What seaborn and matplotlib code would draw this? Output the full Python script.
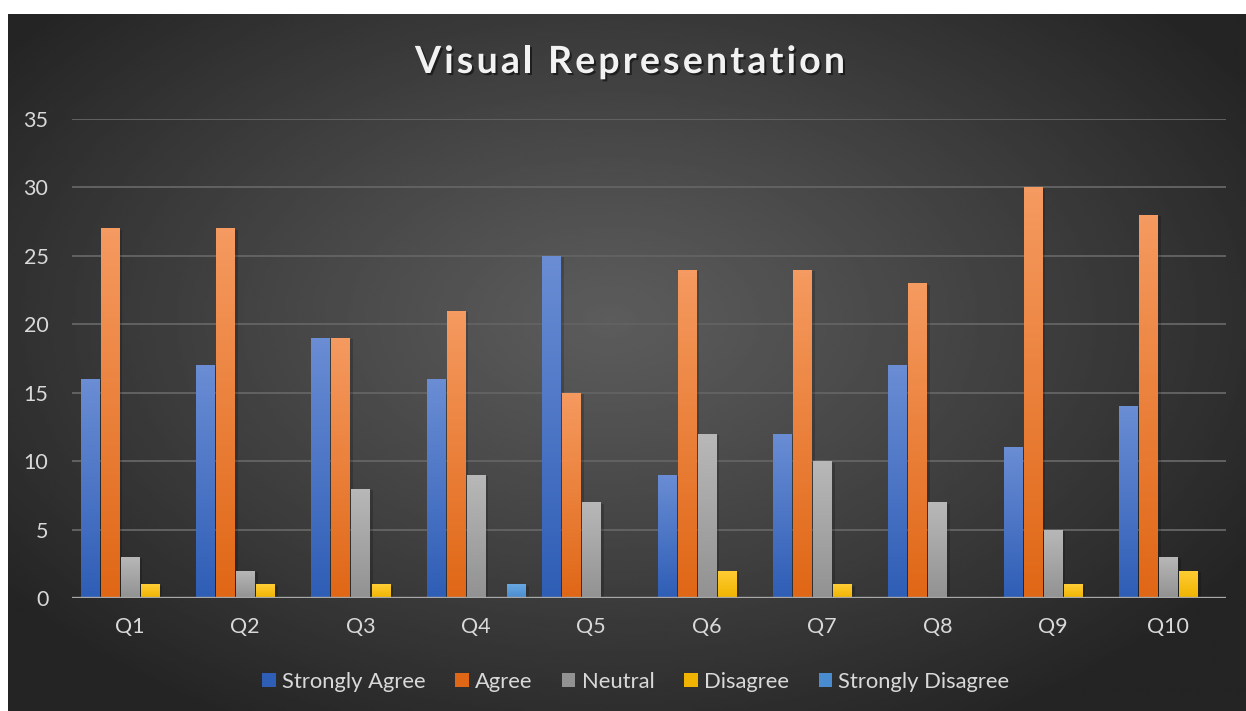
import matplotlib
matplotlib.use("Agg")
import matplotlib.pyplot as plt
import matplotlib.patheffects as pe
from matplotlib.colors import LinearSegmentedColormap
from matplotlib.patches import Rectangle
import seaborn as sns
import pandas as pd
import numpy as np

# ---- data ----
questions = ["Q1", "Q2", "Q3", "Q4", "Q5", "Q6", "Q7", "Q8", "Q9", "Q10"]
levels = ["Strongly Agree", "Agree", "Neutral", "Disagree", "Strongly Disagree"]
strongly_agree = [16, 17, 19, 16, 25, 9, 12, 17, 11, 14]
agree = [27, 27, 19, 21, 15, 24, 24, 23, 30, 28]
neutral = [3, 2, 8, 9, 7, 12, 10, 7, 5, 3]
disagree = [1, 1, 1, 0, 0, 2, 1, 0, 1, 2]
strongly_disagree = [0, 0, 0, 1, 0, 0, 0, 0, 0, 0]
y_ticks = [0, 5, 10, 15, 20, 25, 30, 35]
title = "Visual Representation"

# (top colour, bottom colour) per level
gradients = {
    "Strongly Agree": ("#6a8dd4", "#2f5eb6"),
    "Agree": ("#f59a60", "#e06716"),
    "Neutral": ("#b8b8b8", "#929292"),
    "Disagree": ("#ffcd35", "#f0b400"),
    "Strongly Disagree": ("#68a8e2", "#4a8cd0"),
}

series = [strongly_agree, agree, neutral, disagree, strongly_disagree]
df = pd.DataFrame({
    "Question": np.tile(questions, len(levels)),
    "Level": np.repeat(levels, len(questions)),
    "Count": np.concatenate(series),
})

sns.set_theme(style="dark")
plt.rcParams["font.family"] = ["Lato", "DejaVu Sans"]

W, H = 1246, 711
fig = plt.figure(figsize=(W / 100, H / 100), dpi=100, facecolor="white")

# radial dark background of the chart area
bg = fig.add_axes([0, 0, 1, 1], zorder=0)
bg.set_xlim(0, W)
bg.set_ylim(H, 0)
bg.axis("off")
xx, yy = np.meshgrid(np.linspace(8, W, 400), np.linspace(14, H, 240))
r = np.sqrt(((xx - 610) / 760) ** 2 + ((yy - 320) / 470) ** 2)
shade = 92 - 56 * np.clip(r, 0, 1) ** 1.1
bg.imshow(shade, cmap="gray", vmin=0, vmax=255, extent=(8, W, H, 14),
          aspect="auto", interpolation="bilinear")

ax = fig.add_axes([72 / W, (H - 598) / H, (1226 - 72) / W, (598 - 119) / H], zorder=1)
ax.set_facecolor("none")

palette = {k: v[1] for k, v in gradients.items()}
sns.barplot(data=df, x="Question", y="Count", hue="Level", order=questions,
            hue_order=levels, palette=palette, width=0.87, gap=0.1,
            linewidth=0, legend=False, ax=ax, zorder=3)

# gradient fill and soft shadow on every bar
n_q = len(questions)
for i, patch in enumerate(ax.patches):
    level = levels[i // n_q]
    h = patch.get_height()
    patch.set_edgecolor("none")
    if h <= 0:
        continue
    x0, w = patch.get_x(), patch.get_width()
    patch.set_path_effects([pe.SimplePatchShadow(offset=(2.5, -1), shadow_rgbFace="black", alpha=0.18),
                            pe.Normal()])
    top, bottom = gradients[level]
    cmap = LinearSegmentedColormap.from_list(level, [bottom, top])
    grad = np.linspace(0, 1, 64).reshape(-1, 1)
    im = ax.imshow(grad, cmap=cmap, extent=(x0, x0 + w, 0, h), origin="lower",
                   aspect="auto", zorder=4, interpolation="bilinear")
    im.set_clip_path(patch)

ax.set_xlim(-0.5, n_q - 0.5)
ax.set_ylim(0, 35)
ax.set_yticks(y_ticks)
ax.set_xlabel("")
ax.set_ylabel("")
for s in ax.spines.values():
    s.set_visible(False)
ax.grid(axis="y", color="#626262", linewidth=1.4, zorder=1)
ax.grid(axis="x", visible=False)
ax.axhline(0, color="#a8a8a8", linewidth=2.4, zorder=5)
ax.tick_params(axis="both", length=0, colors="#d9d9d9", labelsize=15.5)
ax.tick_params(axis="x", pad=14)
ax.tick_params(axis="y", pad=17)

# title with letter tracking, drawn char by char
renderer = fig.canvas.get_renderer()
title_kw = dict(color="#f2f2f2", fontsize=27, fontweight="bold", va="center", ha="left",
                path_effects=[pe.withSimplePatchShadow(offset=(1.5, -1.5), shadow_rgbFace="black", alpha=0.5)])
tracking = 3.2
probe = fig.text(0, 0, title, **title_kw)
full_w = probe.get_window_extent(renderer).width
probe.remove()
total_w = full_w + tracking * (len(title) - 1)
x_start = 630 - total_w / 2
for i, ch in enumerate(title):
    if i:
        p = fig.text(0, 0, title[:i], **title_kw)
        off = p.get_window_extent(renderer).width
        if title[i - 1] == " ":
            # trailing space is not measured in the extent
            p2 = fig.text(0, 0, title[:i - 1] + "l", **title_kw)
            q = fig.text(0, 0, "l", **title_kw)
            off = p2.get_window_extent(renderer).width - q.get_window_extent(renderer).width
            sp = fig.text(0, 0, "l l", **title_kw)
            off += sp.get_window_extent(renderer).width - 2 * q.get_window_extent(renderer).width
            p2.remove(); q.remove(); sp.remove()
        p.remove()
    else:
        off = 0
    if ch != " ":
        fig.text((x_start + off + tracking * i) / W, 1 - 62 / H, ch, **title_kw)

handles = [Rectangle((0, 0), 1, 1, facecolor=gradients[l][1], edgecolor="none") for l in levels]
fig.legend(handles, levels, loc="center", bbox_to_anchor=(636 / W, 1 - 682 / H), ncol=5,
           frameon=False, fontsize=15.8, labelcolor="#d9d9d9", handlelength=0.6,
           handleheight=0.6, handletextpad=0.3, columnspacing=1.35)

fig.savefig("out.png", dpi=100, facecolor="white")
